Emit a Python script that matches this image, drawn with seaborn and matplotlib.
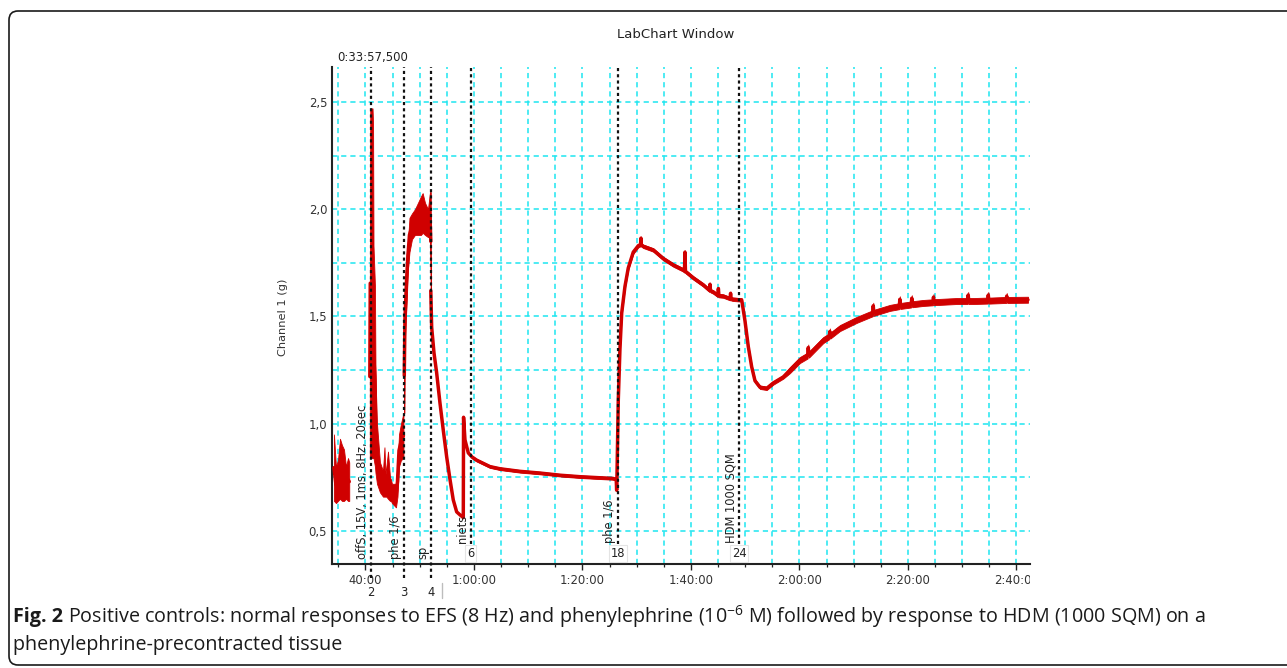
import numpy as np
import pandas as pd
import matplotlib
matplotlib.use("Agg")
import matplotlib.pyplot as plt
import seaborn as sns
from matplotlib.patches import FancyBboxPatch
from matplotlib.lines import Line2D
from matplotlib.transforms import Bbox
from matplotlib.ticker import FixedLocator

# ---------------- data (time in minutes, force in g) ----------------
# noisy segments given as lower / upper envelope
t_a = [34.19, 34.56, 34.93, 35.30, 35.67, 36.04, 36.41, 36.78, 37.01]
lo_a = [0.64, 0.63, 0.64, 0.65, 0.64, 0.64, 0.65, 0.64, 0.64]
hi_a = [0.95, 0.80, 0.83, 0.93, 0.90, 0.88, 0.80, 0.84, 0.82]

t_b = [40.80, 40.88, 41.30, 41.40, 41.48, 41.75, 41.85, 42.12, 42.67, 43.23, 43.50,
       43.69, 43.85, 44.15, 44.52, 44.70, 44.88, 45.25, 45.62, 45.90, 46.18, 46.54, 47.00]
lo_b = [0.84, 0.84, 0.84, 0.84, 0.84, 0.80, 0.77, 0.72, 0.68, 0.66, 0.66,
        0.66, 0.66, 0.65, 0.64, 0.64, 0.63, 0.62, 0.61, 0.66, 0.80, 0.83, 0.84]
hi_b = [1.60, 2.47, 2.47, 2.40, 1.83, 1.64, 1.22, 1.00, 0.82, 0.78, 0.89,
        0.76, 0.80, 0.87, 0.75, 0.74, 0.72, 0.72, 0.72, 0.80, 0.95, 1.00, 1.05]

t_c = [47.15, 47.28, 47.56, 47.83, 48.11, 48.57, 49.12, 49.68, 50.23, 50.54, 50.97, 51.52, 51.89, 52.04]
lo_c = [1.05, 1.40, 1.55, 1.72, 1.80, 1.86, 1.88, 1.88, 1.88, 1.89, 1.88, 1.87, 1.87, 1.62]
hi_c = [1.40, 1.58, 1.78, 1.85, 1.96, 1.98, 2.00, 2.03, 2.06, 2.075, 2.03, 2.00, 2.08, 2.08]

# main trace after washout
t_d = [52.04, 52.20, 52.63, 53.12, 53.73, 54.34, 54.97, 55.58, 56.18, 56.81, 57.42, 57.79, 58.03,
       58.08, 58.34, 58.95, 59.63, 60.50, 62.95, 64.79, 68.48, 72.17, 75.85, 79.54, 83.23, 85.62,
       86.22, 86.30, 86.36, 86.60, 86.91, 87.23, 87.83, 88.44, 89.36, 90.29, 90.70, 90.78, 90.86,
       91.21, 93.05, 94.89, 96.74, 98.58, 98.80, 98.89, 98.98, 100.42, 102.27, 103.40, 103.50,
       103.60, 104.11, 104.95, 105.05, 105.15, 105.95, 107.20, 107.30, 107.40, 107.80, 109.35,
       109.95, 110.56, 111.19, 111.80, 112.72, 113.96, 115.17, 117.01, 118.25, 120.09, 121.50,
       121.62, 121.74, 124.39, 125.50, 125.60, 125.70, 127.47, 130.54, 133.50, 133.60, 133.70,
       136.68, 138.40, 138.50, 138.60, 139.76, 140.60, 140.70, 140.80, 142.82, 144.60, 144.70,
       144.80, 145.90, 148.98, 151.00, 151.10, 151.20, 152.04, 154.70, 154.80, 154.90, 155.12,
       158.10, 158.20, 158.30, 162.12]
v_d = [1.62, 1.45, 1.33, 1.237, 1.097, 0.97, 0.845, 0.74, 0.645, 0.589, 0.575, 0.568, 0.562,
       1.03, 0.925, 0.864, 0.845, 0.83, 0.80, 0.79, 0.778, 0.77, 0.76, 0.753, 0.748, 0.745,
       0.74, 0.69, 0.76, 1.11, 1.35, 1.516, 1.64, 1.726, 1.80, 1.83, 1.835, 1.865, 1.833,
       1.827, 1.81, 1.77, 1.74, 1.717, 1.712, 1.80, 1.710, 1.68, 1.647, 1.622, 1.65,
       1.620, 1.614, 1.598, 1.63, 1.597, 1.595, 1.583, 1.608, 1.582, 1.58, 1.577,
       1.48, 1.36, 1.265, 1.20, 1.17, 1.165, 1.19, 1.218, 1.25, 1.297, 1.318,
       1.355, 1.322, 1.39, 1.408, 1.43, 1.411, 1.446, 1.484, 1.515, 1.55, 1.517,
       1.54, 1.548, 1.58, 1.549, 1.553, 1.556, 1.585, 1.557, 1.563, 1.566, 1.59,
       1.567, 1.568, 1.572, 1.572, 1.60, 1.572, 1.572, 1.574, 1.60, 1.574, 1.574,
       1.577, 1.595, 1.577, 1.578]

# event markers (comment markers of the recording)
marker_t = [41.0, 47.15, 52.07, 59.4, 86.5, 108.9]
marker_num = ["2", "3", "4", "6", "18", "24"]
marker_text = ["offS, 15V, 1ms, 8Hz, 20sec", "phe 1/6", "sp", "niets", "phe 1/6", "HDM 1000 SQM"]

x_major = [40, 60, 80, 100, 120, 140, 160]
x_major_labels = ["40:00", "1:00:00", "1:20:00", "1:40:00", "2:00:00", "2:20:00", "2:40:00"]
y_major = [0.5, 1.0, 1.5, 2.0, 2.5]
y_major_labels = ["0,5", "1,0", "1,5", "2,0", "2,5"]

title = "LabChart Window"
ylabel = "Channel 1 (g)"
start_label = "0:33:57,500"
cap_bold = "Fig. 2"
cap_line1 = ("Positive controls: normal responses to EFS (8 Hz) and phenylephrine "
             "(10$^{-6}$ M) followed by response to HDM (1000 SQM) on a")
cap_line2 = "phenylephrine-precontracted tissue"

# ---------------- build long table ----------------
rows = []
for seg, tt, lo, hi in (("A", t_a, lo_a, hi_a), ("B", t_b, lo_b, hi_b), ("C", t_c, lo_c, hi_c)):
    for t, l, h in zip(tt, lo, hi):
        rows.append((seg, t, l))
        rows.append((seg, t, h))


def trace_thickness(t):
    if t >= 118:
        return 0.014
    if t >= 86.9:
        return 0.008
    if t >= 59.6:
        return 0.006
    return 0.0


for t, v in zip(t_d, v_d):
    hw = trace_thickness(t)
    rows.append(("D", t, v - hw))
    rows.append(("D", t, v + hw))
df = pd.DataFrame(rows, columns=["seg", "t", "v"])

# ---------------- figure ----------------
W, H = 1287, 668
sns.set_theme(style="white")
plt.rcParams["font.family"] = ["DejaVu Sans"]
plt.rcParams["mathtext.fontset"] = "custom"
plt.rcParams["mathtext.rm"] = "Open Sans"
plt.rcParams["mathtext.default"] = "regular"

fig = plt.figure(figsize=(W / 100, H / 100), dpi=100)
fig.patch.set_facecolor("white")
ax = fig.add_axes([332 / W, 1 - 564 / H, 698 / W, 497 / H])
ax.set_facecolor("white")

RED = "#d00000"
sns.lineplot(data=df, x="t", y="v", hue="seg",
             palette={"A": RED, "B": RED, "C": RED, "D": RED},
             estimator="mean", errorbar=("pi", 100),
             err_kws={"alpha": 1, "linewidth": 0.6, "edgecolor": RED},
             linewidth=2.5, legend=False, ax=ax, zorder=3)

ax.set_xlim(33.83, 162.49)
ax.set_ylim(0.346, 2.663)

# ticks and grid
ax.xaxis.set_major_locator(FixedLocator(x_major))
ax.set_xticklabels(x_major_labels)
ax.xaxis.set_minor_locator(FixedLocator([m for m in range(35, 165, 5) if m not in x_major]))
ax.yaxis.set_major_locator(FixedLocator(y_major))
ax.set_yticklabels(y_major_labels)
ax.yaxis.set_minor_locator(FixedLocator([0.75, 1.25, 1.75, 2.25]))

GRID = "#1ee6f0"
ax.set_axisbelow(True)
for which in ("major", "minor"):
    ax.grid(True, which=which, axis="both", color=GRID, linewidth=1.1,
            linestyle=(0, (3.4, 2.6)))

ax.tick_params(axis="x", which="major", direction="out", length=4.5, width=1.0,
               color="#222222", labelsize=8.4, labelcolor="#333333", pad=3.0, bottom=True)
ax.tick_params(axis="x", which="minor", direction="out", length=2.5, width=0.9,
               color="#222222", bottom=True)
ax.tick_params(axis="y", which="both", length=0, labelsize=8.4, labelcolor="#333333", pad=3.5)

for side in ("top", "right"):
    ax.spines[side].set_visible(False)
for side in ("left", "bottom"):
    ax.spines[side].set_visible(True)
    ax.spines[side].set_color("#222222")
    ax.spines[side].set_linewidth(1.5)

ax.set_xlabel("")
ax.set_ylabel(ylabel, fontsize=8.2, color="#333333", va="center")
ax.yaxis.set_label_coords(-0.0702, 0.497)

# event markers
for i, (mt, num, txt) in enumerate(zip(marker_t, marker_num, marker_text)):
    below = i < 3
    y0 = -0.028 if below else 0.04
    ax.axvline(mt, ymin=y0, ymax=1.0, color="#111111", linewidth=1.6,
               linestyle=(0, (1.4, 1.4)), clip_on=False, zorder=6)
    ax.text(mt - 1.55, 0.01 if below else 0.042, txt, rotation=90, ha="center", va="bottom",
            fontsize=8.3, color="#222222", transform=ax.get_xaxis_transform(), zorder=7)
    if below:
        ax.text(mt, -0.057, num, ha="center", va="center", fontsize=8.3, color="#222222",
                transform=ax.get_xaxis_transform(), clip_on=False, zorder=7)
    else:
        ax.text(mt, 0.021, num, ha="center", va="center", fontsize=8.3, color="#222222",
                transform=ax.get_xaxis_transform(), zorder=7,
                bbox=dict(boxstyle="square,pad=0.15", facecolor="white",
                          edgecolor="#e4e4e4", linewidth=0.8))

fig.add_artist(Line2D([441.5 / W, 441.5 / W], [1 - 583 / H, 1 - 598 / H],
                      transform=fig.transFigure, color="#bdbdbd", linewidth=1.0))

# texts
fig.text(676 / W, 1 - 35 / H, title, ha="center", va="center", fontsize=9.5, color="#222222")
fig.text(337 / W, 1 - 57 / H, start_label, ha="left", va="center", fontsize=8.4, color="#222222")

# clip last tick label at the plot edge
clip = Bbox.from_extents(0, 0, 1030, H)
for lbl in ax.get_xticklabels():
    lbl.set_clip_on(True)
    lbl.set_clip_box(clip)

# caption with width fitted to the reference
cap_font = "Open Sans"
fs = 12.0
renderer = fig.canvas.get_renderer()
y1 = 1 - 617 / H
y2 = 1 - 645 / H
for _ in range(3):
    tb = fig.text(13 / W, y1, cap_bold, fontsize=fs, fontweight="bold", family=cap_font,
                  color="#1a1a1a", ha="left", va="center")
    wb = tb.get_window_extent(renderer).width
    tr = fig.text((13 + wb + fs * 0.35) / W, y1, cap_line1, fontsize=fs, family=cap_font,
                  color="#1a1a1a", ha="left", va="center")
    wr = tr.get_window_extent(renderer).x1 - 13
    tb.remove()
    tr.remove()
    fs = fs * 1192.0 / wr
tb = fig.text(13 / W, y1, cap_bold, fontsize=fs, fontweight="bold", family=cap_font,
              color="#1a1a1a", ha="left", va="center")
wb = tb.get_window_extent(renderer).width
fig.text((13 + wb + fs * 0.35) / W, y1, cap_line1, fontsize=fs, family=cap_font,
         color="#1a1a1a", ha="left", va="center")
fig.text(13 / W, y2, cap_line2, fontsize=fs, family=cap_font, color="#1a1a1a",
         ha="left", va="center")

# rounded frame
frame = FancyBboxPatch((9, 3), 1320, 654, boxstyle="round,pad=0,rounding_size=9",
                       transform=None, facecolor="none", edgecolor="#1a1a1a",
                       linewidth=1.2, zorder=10)
fig.patches.append(frame)

fig.savefig("out.png", dpi=100, facecolor="white")
